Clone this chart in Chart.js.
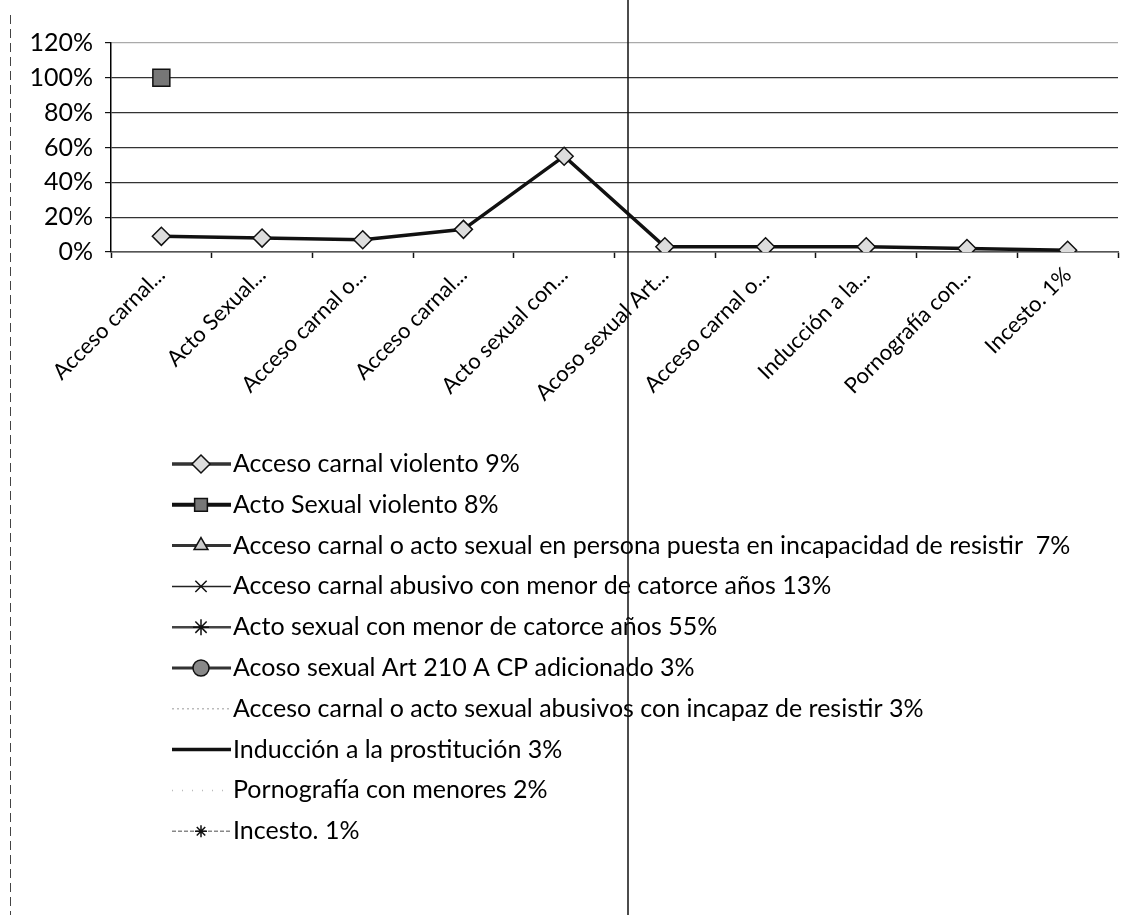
<!DOCTYPE html>
<html>
<head>
<meta charset="utf-8">
<style>
  html, body { margin: 0; padding: 0; background: #fff; }
  #wrap { width: 1135px; height: 915px; position: relative; }
</style>
<script src="https://cdn.jsdelivr.net/npm/chart.js@4/dist/chart.umd.min.js"></script>
</head>
<body>
<div id="wrap"><canvas id="c" width="1135" height="915"></canvas></div>
<script>
// Delitos sexuales: share of cases by type
const categories = [
  'Acceso carnal violento 9%',
  'Acto Sexual violento 8%',
  'Acceso carnal o acto sexual en persona puesta en incapacidad de resistir  7%',
  'Acceso carnal abusivo con menor de catorce años 13%',
  'Acto sexual con menor de catorce años 55%',
  'Acoso sexual Art 210 A CP adicionado 3%',
  'Acceso carnal o acto sexual abusivos con incapaz de resistir 3%',
  'Inducción a la prostitución 3%',
  'Pornografía con menores 2%',
  'Incesto. 1%'
];
const tickLabels = [
  'Acceso carnal...', 'Acto Sexual...', 'Acceso carnal o...', 'Acceso carnal...',
  'Acto sexual con...', 'Acoso sexual Art...', 'Acceso carnal o...',
  'Inducción a la...', 'Pornografía con...', 'Incesto. 1%'
];
const seriesNames = categories.slice();
const shareValues = [9, 8, 7, 13, 55, 3, 3, 3, 2, 1];
const totalValues = [100, null, null, null, null, null, null, null, null, null];
const emptyValues = categories.map(() => null);
const yTicks = [0, 20, 40, 60, 80, 100, 120];

// line and marker look of each series (used for plot and legend)
const seriesStyles = [
  { color: '#111', width: 3.5, dash: [],     point: 'rectRot',  radius: 9,  fill: '#ddd', legendLine: '#333' },
  { color: '#111', width: 4,   dash: [],     point: 'rect',     radius: 12, fill: '#777', legendLine: '#111' },
  { color: '#222', width: 3,   dash: [],     point: 'triangle', radius: 8,  fill: '#ccc', legendLine: '#333' },
  { color: '#222', width: 1.5, dash: [],     point: 'crossRot', radius: 8,  fill: '#fff', legendLine: '#222' },
  { color: '#333', width: 2.5, dash: [],     point: 'star',     radius: 8,  fill: '#fff', legendLine: '#444' },
  { color: '#222', width: 3,   dash: [],     point: 'circle',   radius: 8,  fill: '#888', legendLine: '#333' },
  { color: '#bbb', width: 1.5, dash: [2, 3], point: false,      radius: 0,  fill: '#fff', legendLine: '#bbb' },
  { color: '#111', width: 3.5, dash: [],     point: false,      radius: 0,  fill: '#fff', legendLine: '#111' },
  { color: '#ccc', width: 1.5, dash: [1, 9], point: false,      radius: 0,  fill: '#fff', legendLine: '#bbb' },
  { color: '#888', width: 1.5, dash: [4, 2], point: 'star',     radius: 6,  fill: '#fff', legendLine: '#888' }
];

const seriesData = [shareValues, totalValues];

const datasets = seriesNames.map((name, i) => {
  const s = seriesStyles[i];
  return {
    label: name,
    data: seriesData[i] || emptyValues,
    borderColor: s.color,
    backgroundColor: s.fill,
    borderWidth: s.width,
    borderDash: s.dash,
    pointStyle: s.point,
    pointRadius: s.radius,
    pointBackgroundColor: s.fill,
    pointBorderColor: '#111',
    pointBorderWidth: 1.5,
    tension: 0,
    spanGaps: false
  };
});

const FONT = 'Lato, "Liberation Sans", sans-serif';

// legend drawn as a single left-aligned column under the axis
const columnLegend = {
  id: 'columnLegend',
  afterDraw(chart) {
    const ctx = chart.ctx;
    const top = 464, step = 40.8;
    const x0 = 172, x1 = 231, xm = 201;
    chart.data.datasets.forEach((ds, i) => {
      const s = seriesStyles[i];
      const y = top + i * step;
      ctx.save();
      ctx.strokeStyle = s.legendLine;
      ctx.lineWidth = s.width;
      ctx.setLineDash(s.dash);
      ctx.beginPath();
      ctx.moveTo(x0, y);
      ctx.lineTo(x1, y);
      ctx.stroke();
      ctx.setLineDash([]);
      if (s.point) {
        ctx.fillStyle = s.fill;
        ctx.strokeStyle = '#111';
        ctx.lineWidth = 1.5;
        Chart.helpers.drawPoint(ctx, {
          pointStyle: s.point,
          radius: Math.min(s.radius, 9),
          rotation: 0,
          borderWidth: 1.5
        }, xm, y);
      }
      ctx.fillStyle = '#000';
      ctx.font = '25px ' + FONT;
      ctx.textBaseline = 'middle';
      ctx.textAlign = 'left';
      ctx.fillText(ds.label, 233, y);
      ctx.restore();
    });
  }
};

// page edges of the printed sheet: fold line and dashed left margin
const pageEdges = {
  id: 'pageEdges',
  afterDraw(chart) {
    const ctx = chart.ctx;
    ctx.save();
    ctx.strokeStyle = '#111';
    ctx.lineWidth = 1.5;
    ctx.beginPath();
    ctx.moveTo(628, 0);
    ctx.lineTo(628, 915);
    ctx.stroke();
    ctx.strokeStyle = '#444';
    ctx.lineWidth = 1;
    ctx.setLineDash([9, 5]);
    ctx.beginPath();
    ctx.moveTo(10.5, 15);
    ctx.lineTo(10.5, 915);
    ctx.stroke();
    ctx.restore();
  }
};

new Chart(document.getElementById('c'), {
  type: 'line',
  data: { labels: categories, datasets },
  plugins: [columnLegend, pageEdges],
  options: {
    responsive: false,
    devicePixelRatio: 1,
    animation: false,
    layout: { padding: { left: 0, right: 17, top: 43, bottom: 0 } },
    plugins: {
      legend: { display: false },
      tooltip: { enabled: false }
    },
    scales: {
      x: {
        offset: true,
        afterFit(scale) { scale.height = 663; },
        grid: {
          offset: true,
          drawOnChartArea: false,
          drawTicks: true,
          tickLength: 6,
          tickColor: '#111',
          tickWidth: 1.5
        },
        border: { display: true, color: '#555', width: 1.5 },
        ticks: {
          autoSkip: false,
          minRotation: 45,
          maxRotation: 45,
          padding: 4,
          color: '#000',
          font: { family: FONT, size: 22 },
          callback: (v, i) => tickLabels[i]
        }
      },
      y: {
        min: 0,
        max: 120,
        afterFit(scale) { scale.width = 111; },
        afterBuildTicks(scale) { scale.ticks = yTicks.map(v => ({ value: v })); },
        grid: {
          color: ctx => (ctx.tick && ctx.tick.value === 120) ? '#aaa' : '#333',
          lineWidth: 1.2,
          drawTicks: true,
          tickLength: 6,
          tickColor: '#111'
        },
        border: { display: true, color: '#000', width: 1.5 },
        ticks: {
          padding: 12,
          color: '#000',
          font: { family: FONT, size: 25 },
          callback: v => v + '%'
        }
      }
    }
  }
});
</script>
</body>
</html>
